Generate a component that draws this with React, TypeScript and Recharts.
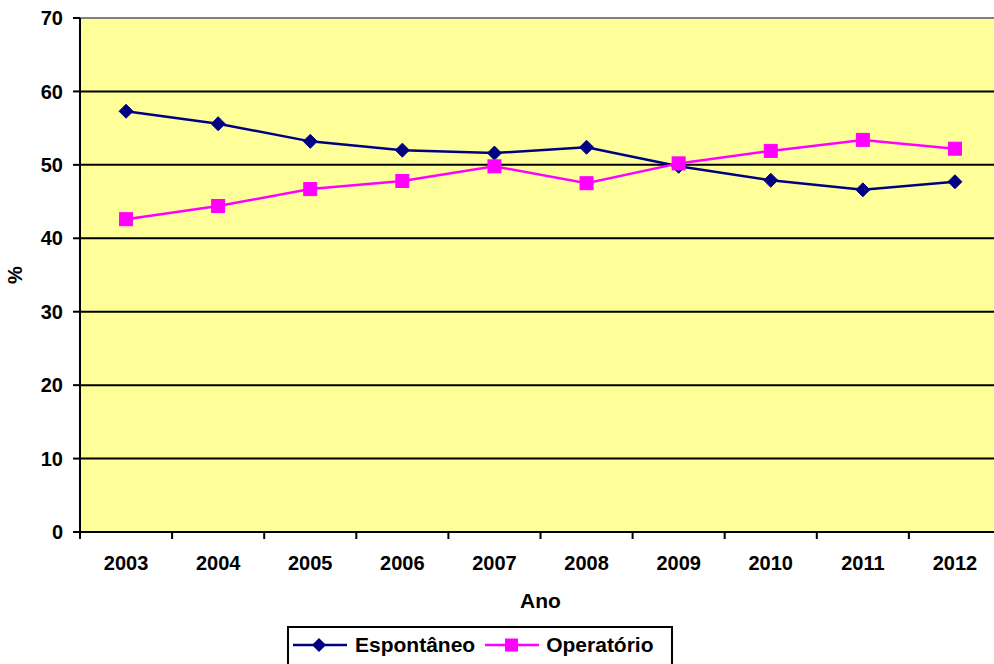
import React from 'react';
import { LineChart, Line, XAxis, YAxis, CartesianGrid, ReferenceLine, Legend } from 'recharts';

const years = ['2003', '2004', '2005', '2006', '2007', '2008', '2009', '2010', '2011', '2012'];
const espontaneo = [57.3, 55.6, 53.2, 52.0, 51.6, 52.4, 49.8, 47.9, 46.6, 47.7];
const operatorio = [42.6, 44.4, 46.7, 47.8, 49.8, 47.5, 50.2, 51.9, 53.4, 52.2];
const yTicks = [0, 10, 20, 30, 40, 50, 60, 70];

const data = years.map((year, i) => ({
  year,
  espontaneo: espontaneo[i],
  operatorio: operatorio[i],
}));

const FONT = '"Liberation Sans", Arial, sans-serif';
const CHART_W = 1001;
const CHART_H = 664;
const Y_AXIS_W = 80;
const BAND = (CHART_W - Y_AXIS_W) / years.length;

const NAVY = '#000080';
const MAGENTA = '#FF00FF';

const Diamond = (props: any) => {
  const { cx, cy } = props;
  if (cx == null || cy == null) return null;
  const r = 7;
  return (
    <polygon
      points={`${cx},${cy - r} ${cx + r},${cy} ${cx},${cy + r} ${cx - r},${cy}`}
      fill={NAVY}
      stroke={NAVY}
    />
  );
};

const Square = (props: any) => {
  const { cx, cy } = props;
  if (cx == null || cy == null) return null;
  const s = 13;
  return <rect x={cx - s / 2} y={cy - s / 2} width={s} height={s} fill={MAGENTA} stroke={MAGENTA} />;
};

// tick marks sit between the categories, labels in the middle
const YearTick = (props: any) => {
  const { x, y, payload, index } = props;
  const half = BAND / 2;
  return (
    <g>
      <line x1={x - half} y1={y} x2={x - half} y2={y + 7} stroke="#000" strokeWidth={2} />
      {index === years.length - 1 && (
        <line x1={x + half} y1={y} x2={x + half} y2={y + 7} stroke="#000" strokeWidth={2} />
      )}
      <text x={x} y={y + 38} textAnchor="middle" fill="#000" fontFamily={FONT} fontWeight="bold" fontSize={20}>
        {payload.value}
      </text>
    </g>
  );
};

const LegendBox = () => (
  <div
    style={{
      width: 386,
      height: 44,
      boxSizing: 'border-box',
      border: '2px solid #000',
      background: '#fff',
      display: 'flex',
      alignItems: 'center',
      fontFamily: FONT,
      fontWeight: 'bold',
      fontSize: 21,
      color: '#000',
      paddingLeft: 4,
      paddingBottom: 6,
    }}
  >
    <svg width={54} height={16} style={{ marginRight: 8 }}>
      <line x1={0} y1={8} x2={54} y2={8} stroke={NAVY} strokeWidth={2.5} />
      <polygon points="26,1 33,8 26,15 19,8" fill={NAVY} />
    </svg>
    <span style={{ marginRight: 10 }}>Espontâneo</span>
    <svg width={54} height={16} style={{ marginRight: 7 }}>
      <line x1={0} y1={8} x2={54} y2={8} stroke={MAGENTA} strokeWidth={2.5} />
      <rect x={20} y={1.5} width={13} height={13} fill={MAGENTA} />
    </svg>
    <span>Operatório</span>
  </div>
);

export default function App() {
  return (
    <div
      style={{
        position: 'absolute',
        left: 0,
        top: 0,
        width: 994,
        height: 664,
        overflow: 'hidden',
        background: '#fff',
        fontFamily: FONT,
      }}
    >
      <LineChart
        width={CHART_W}
        height={CHART_H}
        data={data}
        margin={{ top: 18, right: 0, left: 0, bottom: 52 }}
      >
        <CartesianGrid vertical={false} stroke="#000" strokeWidth={2} fill="#FFFF99" />
        <ReferenceLine y={70} stroke="#808080" strokeWidth={2} />
        <XAxis
          dataKey="year"
          height={80}
          padding={{ left: BAND / 2, right: BAND / 2 }}
          axisLine={{ stroke: '#000', strokeWidth: 2 }}
          tickLine={false}
          tickSize={0}
          tickMargin={0}
          interval={0}
          tick={<YearTick />}
          label={{
            value: 'Ano',
            position: 'insideBottom',
            offset: 4,
            style: { fill: '#000', fontWeight: 'bold', fontSize: 21, fontFamily: FONT },
          }}
        />
        <YAxis
          width={Y_AXIS_W}
          domain={[0, 70]}
          ticks={yTicks}
          interval={0}
          axisLine={{ stroke: '#000', strokeWidth: 2 }}
          tickLine={{ stroke: '#000', strokeWidth: 2 }}
          tickSize={7}
          tickMargin={10}
          tick={{ fill: '#000', fontWeight: 'bold', fontSize: 20, fontFamily: FONT }}
          label={{
            value: '%',
            angle: -90,
            position: 'insideLeft',
            offset: 15,
            style: { fill: '#000', fontWeight: 'bold', fontSize: 20, fontFamily: FONT, textAnchor: 'middle' },
          }}
        />
        <Line
          type="linear"
          dataKey="espontaneo"
          name="Espontâneo"
          stroke={NAVY}
          strokeWidth={2.5}
          dot={<Diamond />}
          activeDot={false}
          isAnimationActive={false}
        />
        <Line
          type="linear"
          dataKey="operatorio"
          name="Operatório"
          stroke={MAGENTA}
          strokeWidth={2.5}
          dot={<Square />}
          activeDot={false}
          isAnimationActive={false}
        />
        <Legend
          layout="horizontal"
          verticalAlign="middle"
          align="center"
          content={<LegendBox />}
          wrapperStyle={{ left: 287, top: 626, width: 386 }}
        />
      </LineChart>
    </div>
  );
}
